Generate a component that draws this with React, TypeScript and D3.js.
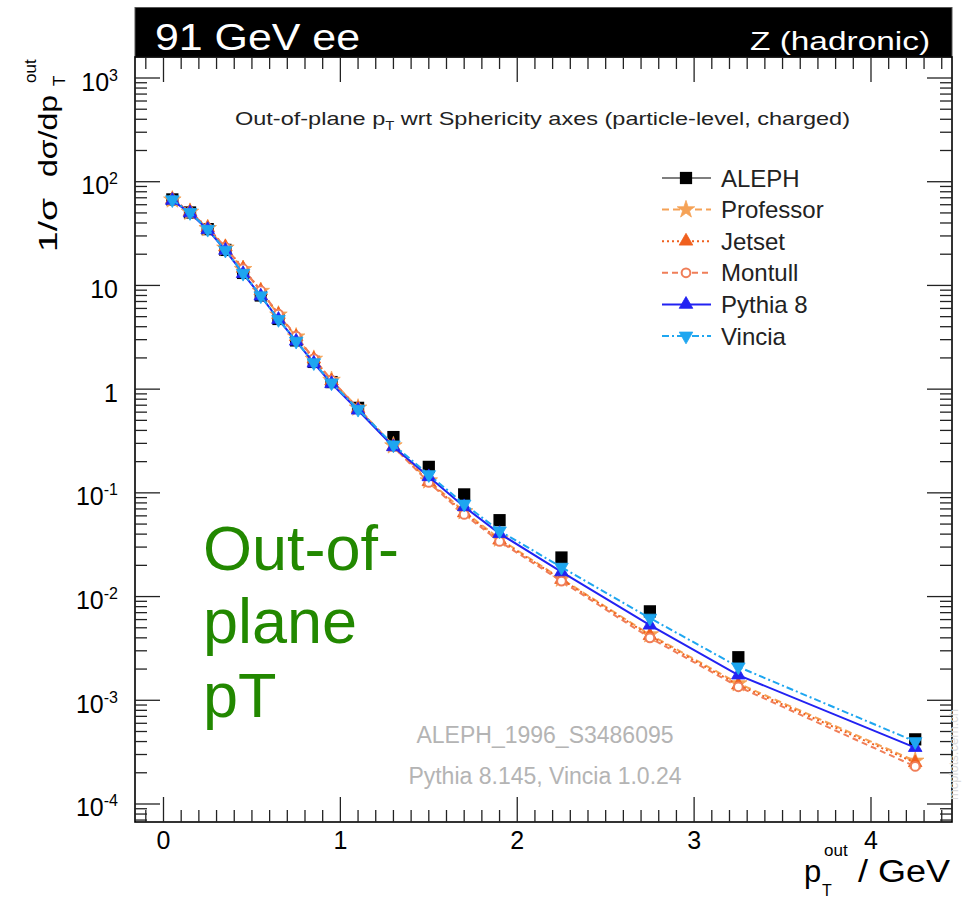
import React from "react";
import * as d3 from "d3";

// Bin centres in pT_out (GeV)
const X_CENTERS = [0.05, 0.15, 0.25, 0.35, 0.45, 0.55, 0.65, 0.75, 0.85, 0.95, 1.1, 1.3, 1.5, 1.7, 1.9, 2.25, 2.75, 3.25, 4.25];

// 1/sigma dsigma/dpT_out per generator / measurement
const ALEPH = [67.5, 50.5, 34.9, 22.0, 13.2, 8.0, 4.75, 2.95, 1.83, 1.17, 0.66, 0.345, 0.178, 0.0966, 0.0545, 0.0238, 0.0072, 0.0026, 0.00042];
const PROFESSOR = [67, 51, 35.5, 23.0, 14.3, 8.8, 5.2, 3.2, 1.95, 1.22, 0.66, 0.285, 0.131, 0.066, 0.036, 0.0148, 0.0043, 0.00145, 0.00026];
const JETSET = [67.5, 51.5, 36, 23.5, 14.6, 8.9, 5.25, 3.2, 1.95, 1.2, 0.65, 0.28, 0.128, 0.064, 0.035, 0.0146, 0.0042, 0.0014, 0.00025];
const MONTULL = [67, 51, 35.8, 23.3, 14.5, 8.9, 5.3, 3.25, 1.97, 1.22, 0.65, 0.278, 0.126, 0.062, 0.034, 0.0141, 0.004, 0.00135, 0.00023];
const PYTHIA8 = [66, 50, 34.5, 21.8, 13.0, 7.9, 4.7, 2.9, 1.78, 1.13, 0.627, 0.278, 0.143, 0.0735, 0.0405, 0.0173, 0.0053, 0.00175, 0.00035];
const VINCIA = [67, 50.5, 34.8, 21.9, 13.1, 7.95, 4.7, 2.9, 1.8, 1.15, 0.64, 0.29, 0.15, 0.078, 0.043, 0.0192, 0.0062, 0.0021, 0.00040];

const LEGEND_LABELS = ["ALEPH", "Professor", "Jetset", "Montull", "Pythia 8", "Vincia"];
const Y_TICK_EXPONENTS = [3, 2, 1, 0, -1, -2, -3, -4];
const X_TICK_LABELS = [0, 1, 2, 3, 4];

const FONT = "'Liberation Sans', Arial, Helvetica, sans-serif";

const left = 135, right = 952, top = 57, bottom = 822;
const x = d3.scaleLinear().domain([-0.1611, 4.458]).range([left, right]);
const y = d3.scaleLog().domain([Math.pow(10, -4.1736), Math.pow(10, 3.2025)]).range([bottom, top]);

type Series = {
  name: string;
  values: number[];
  color: string;
  dash: string | null;
  symbol: d3.SymbolType;
  size: number;
  rotate: number;
  open: boolean;
};

const SERIES: Series[] = [
  { name: LEGEND_LABELS[1], values: PROFESSOR, color: "#f5a256", dash: "7,4", symbol: d3.symbolStar, size: 95, rotate: 0, open: false },
  { name: LEGEND_LABELS[2], values: JETSET, color: "#f0601e", dash: "2,3", symbol: d3.symbolTriangle, size: 80, rotate: 0, open: false },
  { name: LEGEND_LABELS[3], values: MONTULL, color: "#f07e58", dash: "6,4", symbol: d3.symbolCircle, size: 60, rotate: 0, open: true },
  { name: LEGEND_LABELS[4], values: PYTHIA8, color: "#2222f2", dash: null, symbol: d3.symbolTriangle, size: 80, rotate: 0, open: false },
  { name: LEGEND_LABELS[5], values: VINCIA, color: "#1ea6f0", dash: "7,3,2,3", symbol: d3.symbolTriangle, size: 80, rotate: 180, open: false },
];

const line = d3.line<number>().x((_, i) => x(X_CENTERS[i])).y((v) => y(v));

function Marker({ s, cx, cy }: { s: Series; cx: number; cy: number }) {
  const path = d3.symbol().type(s.symbol).size(s.size)() as string;
  return (
    <path
      d={path}
      transform={`translate(${cx},${cy}) rotate(${s.rotate})`}
      fill={s.open ? "white" : s.color}
      stroke={s.color}
      strokeWidth={s.open ? 2 : 0.8}
    />
  );
}

export default function App() {
  // log-axis ticks
  const yTicks: { v: number; major: boolean }[] = [];
  for (let d = -5; d <= 3; d++) {
    for (let m = 1; m <= 9; m++) {
      const v = m * Math.pow(10, d);
      const [lo, hi] = y.domain();
      if (v >= lo && v <= hi) yTicks.push({ v, major: m === 1 });
    }
  }
  const xTicks: { v: number; major: boolean }[] = [];
  for (let i = -1; i <= 44; i++) {
    const v = i / 10;
    xTicks.push({ v, major: i % 10 === 0 });
  }
  const square = d3.symbol().type(d3.symbolSquare).size(150)() as string;
  const legendY = (i: number) => 178 + i * 31.6;

  return (
    <svg width={962} height={902} style={{ position: "absolute", left: 0, top: 0, background: "white" }} fontFamily={FONT}>
      {/* title bar */}
      <rect x={left} y={7.5} width={right - left} height={top - 7.5} fill="#000" stroke="#555" strokeWidth={1} />
      <text x={155} y={50} fontSize={36} fill="white" textLength={205} lengthAdjust="spacingAndGlyphs">91 GeV ee</text>
      <text x={750} y={50} fontSize={26} fill="white" textLength={180} lengthAdjust="spacingAndGlyphs">Z (hadronic)</text>

      {/* frame */}
      <rect x={left} y={top} width={right - left} height={bottom - top} fill="none" stroke="#000" strokeWidth={1.6} />

      {/* y ticks left + right */}
      {yTicks.map((t, i) => {
        const yy = y(t.v);
        const len = t.major ? 25 : 12;
        return (
          <g key={"y" + i} stroke="#222" strokeWidth={1.3}>
            <line x1={left} x2={left + len} y1={yy} y2={yy} />
            <line x1={right} x2={right - len} y1={yy} y2={yy} />
          </g>
        );
      })}
      {/* x ticks bottom + top */}
      {xTicks.map((t, i) => {
        const xx = x(t.v);
        if (xx < left + 1 || xx > right - 1) return null;
        const len = t.major ? 25 : 12;
        return (
          <g key={"x" + i} stroke="#222" strokeWidth={1.3}>
            <line x1={xx} x2={xx} y1={bottom} y2={bottom - len} />
            <line x1={xx} x2={xx} y1={top} y2={top + len} />
          </g>
        );
      })}

      {/* y tick labels */}
      {Y_TICK_EXPONENTS.map((e) => {
        const yy = y(Math.pow(10, e)) + 12.5;
        if (e === 0) return <text key={e} x={118} y={yy} fontSize={25} textAnchor="end">1</text>;
        if (e === 1) return <text key={e} x={118} y={yy} fontSize={25} textAnchor="end">10</text>;
        return (
          <text key={e} x={118} y={yy} fontSize={25} textAnchor="end">
            10<tspan dy={-10} fontSize={16}>{e < 0 ? `-${-e}` : `${e}`}</tspan>
          </text>
        );
      })}
      {/* x tick labels */}
      {X_TICK_LABELS.map((v) => (
        <text key={v} x={x(v)} y={849} fontSize={25} textAnchor="middle">{v}</text>
      ))}

      {/* axis titles */}
      <text x={804} y={882} fontSize={31}>p</text>
      <text x={822} y={896} fontSize={16}>T</text>
      <text x={824} y={856} fontSize={17}>out</text>
      <text x={858} y={882} fontSize={31} textLength={92} lengthAdjust="spacingAndGlyphs">/ GeV</text>

      <g transform="translate(57,252) rotate(-90)">
        <text x={0} y={0} fontSize={26} textLength={54} lengthAdjust="spacingAndGlyphs">1/σ</text>
        <text x={75} y={0} fontSize={26} textLength={82} lengthAdjust="spacingAndGlyphs">dσ/dp</text>
        <text x={166} y={8} fontSize={17}>T</text>
        <text x={169} y={-21} fontSize={17}>out</text>
      </g>

      {/* subtitle */}
      <text x={235} y={125} fontSize={19} fill="#222" textLength={615} lengthAdjust="spacingAndGlyphs">
        Out-of-plane p<tspan dy={5} fontSize={12}>T</tspan><tspan dy={-5}> wrt Sphericity axes (particle-level, charged)</tspan>
      </text>

      {/* measurement */}
      {ALEPH.map((v, i) => (
        <path key={"a" + i} d={square} transform={`translate(${x(X_CENTERS[i])},${y(v)})`} fill="#000" />
      ))}

      {/* generator curves */}
      {SERIES.map((s) => (
        <g key={s.name}>
          <path d={line(s.values) as string} fill="none" stroke={s.color} strokeWidth={2} strokeDasharray={s.dash ?? undefined} />
          {s.values.map((v, i) => (
            <Marker key={i} s={s} cx={x(X_CENTERS[i])} cy={y(v)} />
          ))}
        </g>
      ))}

      {/* legend */}
      <g>
        <line x1={662} x2={711} y1={legendY(0)} y2={legendY(0)} stroke="#555" strokeWidth={1.3} />
        <path d={square} transform={`translate(686,${legendY(0)})`} fill="#000" />
        <text x={721} y={legendY(0) + 8.5} fontSize={24} fill="#222">{LEGEND_LABELS[0]}</text>
        {SERIES.map((s, k) => {
          const ly = legendY(k + 1);
          return (
            <g key={"l" + s.name}>
              <line x1={662} x2={711} y1={ly} y2={ly} stroke={s.color} strokeWidth={2} strokeDasharray={s.dash ?? undefined} />
              <Marker s={s} cx={686} cy={ly} />
              <text x={721} y={ly + 8.5} fontSize={24} fill="#222">{s.name}</text>
            </g>
          );
        })}
      </g>

      {/* analysis / generator tags */}
      <text x={545} y={743} fontSize={23} fill="#b4b4b4" textAnchor="middle">ALEPH_1996_S3486095</text>
      <text x={545} y={784} fontSize={23} fill="#b4b4b4" textAnchor="middle">Pythia 8.145, Vincia 1.0.24</text>
      <text transform="translate(958,800) rotate(-90)" fontSize={13} fill="#dcdcdc">mcplots.cern.ch</text>

      {/* annotation */}
      <g fill="#228800" fontSize={63}>
        <text x={203} y={570}>Out-of-</text>
        <text x={203} y={643}>plane</text>
        <text x={203} y={717}>pT</text>
      </g>
    </svg>
  );
}
